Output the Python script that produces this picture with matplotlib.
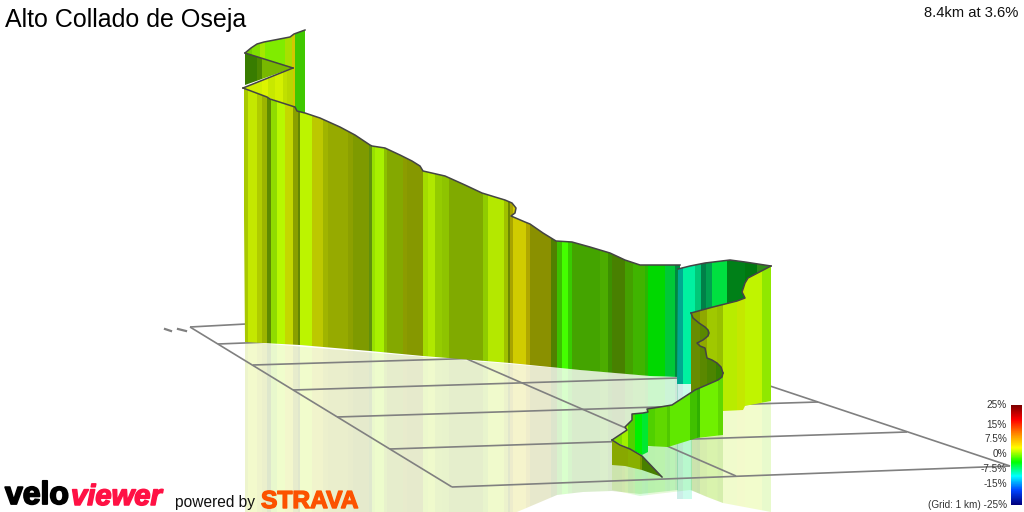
import matplotlib
matplotlib.use('Agg')
import matplotlib.pyplot as plt
import matplotlib.patheffects as pe
from matplotlib.colors import LinearSegmentedColormap
from matplotlib.patches import Polygon
import numpy as np

plt.rcParams['font.family'] = ['Liberation Sans', 'DejaVu Sans']

title = 'Alto Collado de Oseja'
summary = '8.4km at 3.6%'
scale_labels = ['25%', '15%', '7.5%', '0%', '-7.5%', '-15%', '(Grid: 1 km) -25%']
scale_y = [405, 425, 439, 454, 469, 484, 505]
scale_stops = ['#800000', '#ff0000', '#ff8800', '#ffff00', '#00ff00', '#00ffff', '#0044ff', '#000080']

# grid on the ground, all in pixels of the picture
grid_x0 = [190, 218, 253, 293, 337, 390, 190, 452, 770, 467]
grid_y0 = [327, 344, 365, 390, 417, 449, 327, 487, 386, 359]
grid_x1 = [246, 270, 485, 678, 818, 907, 452, 1010, 1010, 736]
grid_y1 = [324, 342, 358, 378, 402, 432, 487, 466, 466, 476]

# main wall
main_top_x = [243, 267, 270, 295, 297, 305, 320, 340, 355, 370, 372, 385, 400, 412, 420, 423, 445, 465, 482, 495,
              505, 512, 516, 515, 511, 525, 530, 543, 556, 572, 590, 610, 625, 640, 645, 680]
main_top_y = [88, 97, 99, 107, 111, 113, 118, 127, 135, 145, 146, 148, 155, 161, 166, 171, 176, 185, 193, 197,
              200, 203, 208, 213, 216, 222, 224, 233, 241, 242, 247, 253, 260, 265, 265, 265]
main_bot_x = [680, 678, 650, 580, 510, 423, 370, 300, 245]
main_bot_y = [378, 377, 376, 370, 363, 356, 351, 345, 342]
main_edges = [244, 248, 257, 262, 267, 271, 277, 285, 293, 298, 300, 312, 323, 328, 348, 353, 369, 372, 375, 384,
              387, 403, 407, 423, 428, 435, 442, 449, 483, 488, 504, 508, 510, 513, 526, 530, 551, 557, 562, 568,
              572, 600, 608, 612, 625, 633, 645, 648, 665, 675, 681]
main_colors = ['#a8c800', '#c4e800', '#b0cc00', '#9cb400', '#5e8a00', '#90dc00', '#b8f800', '#c4d800', '#8aa000',
               '#648800', '#bcf400', '#bcc800', '#a0b400', '#96aa00', '#8ca000', '#7e9a00', '#60900c', '#98e000',
               '#a8f000', '#8cc000', '#84a800', '#8c9c00', '#869800', '#a4dc00', '#b0e800', '#94cc00', '#8ec400',
               '#80aa00', '#90cc00', '#b4e800', '#a0c000', '#6c8800', '#a8a400', '#d0cc00', '#b0a800', '#8a9000',
               '#508000', '#3cc000', '#44ff00', '#38cc00', '#44a400', '#4cac00', '#3c9000', '#488000', '#44a000',
               '#40b400', '#28b800', '#00d800', '#00c838', '#008840']
main_refl_x = [245, 245, 517, 557, 583, 612, 640, 678, 678]
main_refl_y = [342, 512, 512, 495, 492, 491, 494, 490, 378]

# far part at the top left, and the fold in front of it
far_top_x = [245, 251, 257, 264, 290, 294, 305]
far_top_y = [53, 48, 44, 42, 37, 34, 30]
far_bot_x = [305, 293, 293, 245]
far_bot_y = [114, 109, 69, 53]
far_edges = [245, 252, 260, 265, 285, 292, 295, 306]
far_colors = ['#70d000', '#80e000', '#a4e800', '#80ec00', '#a8e000', '#d0c800', '#40c800']

wedge_x = [245, 293, 245]
wedge_y = [53, 68, 85]
wedge_edges = [245, 257, 262, 293]
wedge_colors = ['#387c00', '#4c8800', '#78b800']

fold_top_x = [243, 293]
fold_top_y = [88, 68]
fold_bot_x = [293, 267, 243]
fold_bot_y = [108, 97, 88]
fold_edges = [243, 262, 268, 275, 283, 287, 293]
fold_colors = ['#d0f000', '#dcf400', '#c8e800', '#d4f000', '#c0e000', '#b8d800']

# back wall on the right
back_top_x = [678, 690, 705, 730, 745, 771]
back_top_y = [269, 266, 263, 260, 262, 266]
back_bot_x = [771, 692, 677]
back_bot_y = [300, 384, 384]
back_edges = [677, 683, 695, 701, 706, 712, 727, 745, 757, 772]
back_colors = ['#00a890', '#00f0a0', '#00c878', '#008048', '#00a050', '#00e040', '#008018', '#007810', '#2c8c18']

# right wall
right_top_x = [691, 713, 737, 745, 742, 745, 748, 771]
right_top_y = [313, 307, 301, 298, 292, 283, 278, 266]
right_bot_x = [771, 745, 743, 723, 691]
right_bot_y = [401, 406, 410, 411, 411]
right_edges = [691, 700, 707, 717, 723, 737, 745, 762, 771]
right_colors = ['#7c9800', '#90a800', '#a0c800', '#98c000', '#b8ec00', '#c4e800', '#c0f400', '#90e800']
right_refl_x = [691, 707, 723, 771, 771, 723, 691]
right_refl_y = [490, 497, 503, 512, 401, 411, 411]

# inside of the bend
bend_x = [691, 693, 699, 705, 708, 709, 708, 703, 697, 700, 705, 706, 707, 712, 717, 721, 723]
bend_y = [313, 318, 323, 327, 330, 333, 336, 340, 343, 346, 348, 353, 358, 360, 363, 367, 373]
inner_low_x = [722, 718, 695, 691]
inner_low_y = [377, 380, 390, 392]
inner_edges = [691, 700, 707, 716, 724]
inner_colors = ['#688c00', '#5a8800', '#4c8400', '#388000']

# front wall
front_top_x = [723, 722, 718, 695, 672, 660, 647, 648, 643, 632, 632, 625, 627, 612]
front_top_y = [373, 377, 380, 390, 405, 407, 409, 412, 413, 414, 420, 427, 430, 440]
front_bot_x = [612, 642, 648, 648, 668, 697, 723]
front_bot_y = [440, 455, 452, 446, 447, 438, 435]
front_edges = [612, 622, 628, 635, 642, 648, 655, 667, 670, 690, 697, 700, 718, 724]
front_colors = ['#80e000', '#a0f000', '#50d000', '#00f000', '#00e830', '#50d000', '#60d800', '#50c800', '#60e800',
                '#40c000', '#30b000', '#70f000', '#60d800']
front_refl_x = [612, 612, 640, 690, 723, 723, 648, 612]
front_refl_y = [440, 490, 496, 490, 503, 435, 447, 440]

# the spike at the start of the climb
spike_top_x = [612, 620, 630, 642, 662]
spike_top_y = [440, 445, 449, 456, 477]
spike_bot_x = [662, 642, 625, 612]
spike_bot_y = [477, 470, 466, 465]
spike_edges = [612, 628, 640, 642, 663]
spike_colors = ['#88a800', '#88b000', '#789800', '#488000']

fig = plt.figure(figsize=(10.24, 5.12), dpi=100)
ax = fig.add_axes([0, 0, 1, 1])


def bands(xs, ys, edges, colors, z, alpha=1.0):
    clip = Polygon(list(zip(xs, ys)), closed=True, fc='none', ec='none', transform=ax.transData)
    ax.add_patch(clip)
    bars = ax.bar(edges[:-1], 512, width=np.diff(edges), bottom=0, align='edge', color=colors,
                  linewidth=0, alpha=alpha, zorder=z, antialiased=False)
    for b in bars:
        b.set_clip_path(clip)


# reflections under the ground
bands(main_refl_x, main_refl_y, main_edges, main_colors, 1, alpha=0.2)
bands(right_refl_x, right_refl_y, right_edges, right_colors, 1, alpha=0.2)
bands(front_refl_x, front_refl_y, front_edges, front_colors, 1.1, alpha=0.15)
bands([677, 677, 692, 692], [378, 499, 499, 378], back_edges, back_colors, 1.2, alpha=0.2)

# grid
for x0, y0, x1, y1 in zip(grid_x0, grid_y0, grid_x1, grid_y1):
    ax.plot([x0, x1], [y0, y1], color='#808080', lw=1.2, zorder=2, solid_capstyle='butt')
ax.plot([165, 171], [329, 331], color='#808080', lw=1.6, zorder=2)
ax.plot([178, 186], [329, 331], color='#808080', lw=1.6, zorder=2)

# walls from back to front
bands(far_top_x + far_bot_x, far_top_y + far_bot_y, far_edges, far_colors, 3)
bands(wedge_x, wedge_y, wedge_edges, wedge_colors, 3.1)
bands(main_top_x + main_bot_x, main_top_y + main_bot_y, main_edges, main_colors, 4)
bands(fold_top_x + fold_bot_x, fold_top_y + fold_bot_y, fold_edges, fold_colors, 4.1)
bands(back_top_x + back_bot_x, back_top_y + back_bot_y, back_edges, back_colors, 5)
bands(right_top_x + right_bot_x, right_top_y + right_bot_y, right_edges, right_colors, 6)
bands(bend_x + inner_low_x, bend_y + inner_low_y, inner_edges, inner_colors, 7)
bands(front_top_x + front_bot_x, front_top_y + front_bot_y, front_edges, front_colors, 8)
bands(spike_top_x + spike_bot_x, spike_top_y + spike_bot_y, spike_edges, spike_colors, 9)

# dark line along the road
line_kw = dict(color='#444444', lw=1.1, zorder=10, solid_joinstyle='round')
ax.plot(far_top_x, far_top_y, **line_kw)
ax.plot(wedge_x[:2], wedge_y[:2], **line_kw)
ax.plot(fold_top_x, fold_top_y, **line_kw)
ax.plot(main_top_x, main_top_y, **line_kw)
ax.plot(back_top_x, back_top_y, **line_kw)
ax.plot(right_top_x, right_top_y, **line_kw)
ax.plot(bend_x, bend_y, **line_kw)
ax.plot(front_top_x, front_top_y, **line_kw)
ax.plot(spike_top_x, spike_top_y, **line_kw)

# texts
ax.text(5, 20, title, fontsize=18, color='black', va='center', ha='left', zorder=20)
ax.text(1018, 13, summary, fontsize=10.6, color='#111111', va='center', ha='right', zorder=20)
for lab, y in zip(scale_labels, scale_y):
    ax.text(1007, y, lab, fontsize=7.2, color='#333333', va='center', ha='right', zorder=20)

# colour scale
cmap = LinearSegmentedColormap.from_list('grade', scale_stops)
ax.imshow(np.linspace(0, 1, 100).reshape(-1, 1), cmap=cmap, aspect='auto', extent=[1011, 1022, 505, 405], zorder=20)

# logos
thick = [pe.withStroke(linewidth=1.3, foreground='black')]
ax.text(5, 496, 'velo', fontsize=23, fontweight='bold', color='black', va='center', ha='left',
        zorder=20, path_effects=thick)
thick = [pe.withStroke(linewidth=1.1, foreground='#ff1144')]
ax.text(71, 497, 'viewer', fontsize=21, fontweight='bold', style='italic', color='#ff1144', va='center', ha='left',
        zorder=20, path_effects=thick)
ax.text(175, 502, 'powered by', fontsize=11.2, color='#111111', va='center', ha='left', zorder=20)
thick = [pe.withStroke(linewidth=1.0, foreground='#fc5200')]
ax.text(261, 501, 'STRAVA', fontsize=17.7, fontweight='bold', color='#fc5200', va='center', ha='left',
        zorder=20, path_effects=thick)

ax.set_xlim(0, 1024)
ax.set_ylim(512, 0)
ax.axis('off')

fig.savefig('out.png', dpi=100)
